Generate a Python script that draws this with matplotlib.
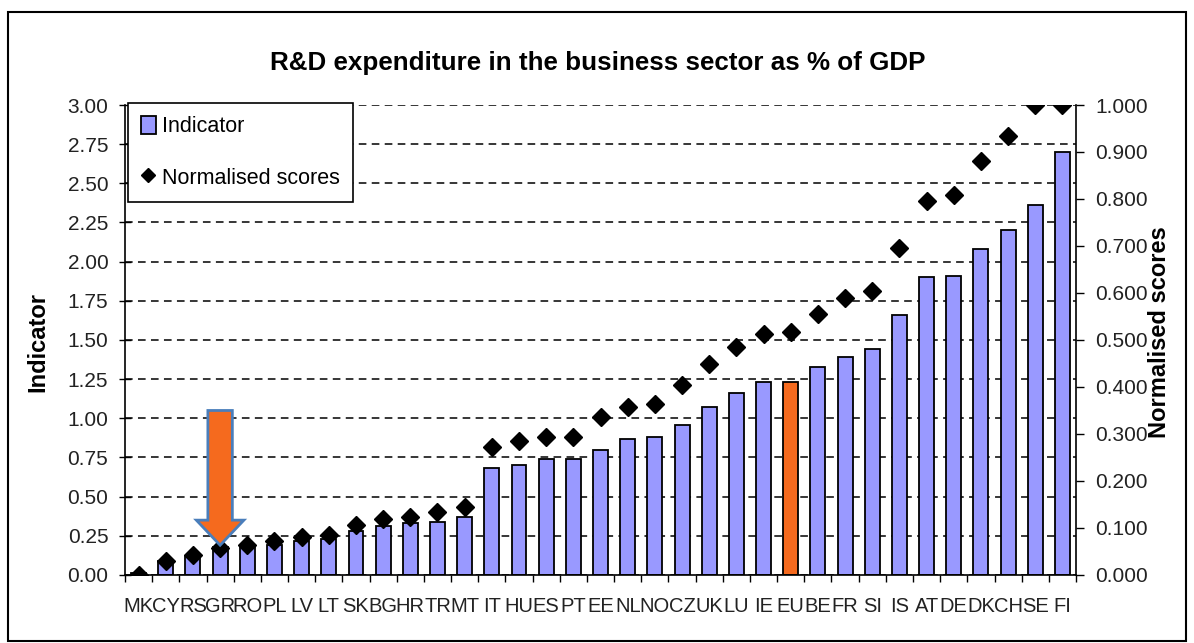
import numpy as np
import matplotlib
matplotlib.use("Agg")
import matplotlib.pyplot as plt
from matplotlib import font_manager as fm
from matplotlib.patches import FancyArrow, Rectangle, Patch
from matplotlib.lines import Line2D

# data
countries = ["MK", "CY", "RS", "GR", "RO", "PL", "LV", "LT", "SK", "BG", "HR", "TR",
             "MT", "IT", "HU", "ES", "PT", "EE", "NL", "NO", "CZ", "UK", "LU", "IE",
             "EU", "BE", "FR", "SI", "IS", "AT", "DE", "DK", "CH", "SE", "FI"]
indicator = [0.01, 0.09, 0.12, 0.18, 0.18, 0.19, 0.22, 0.23, 0.28, 0.31, 0.33, 0.34,
             0.37, 0.68, 0.70, 0.74, 0.74, 0.80, 0.87, 0.88, 0.96, 1.07, 1.16, 1.23,
             1.23, 1.33, 1.39, 1.44, 1.66, 1.90, 1.91, 2.08, 2.20, 2.36, 2.70]
normalised = [0.000, 0.030, 0.043, 0.057, 0.064, 0.073, 0.080, 0.085, 0.106, 0.120,
              0.123, 0.133, 0.145, 0.273, 0.285, 0.294, 0.294, 0.337, 0.358, 0.364,
              0.404, 0.449, 0.485, 0.513, 0.518, 0.556, 0.590, 0.604, 0.696, 0.796,
              0.808, 0.881, 0.934, 1.000, 1.000]
highlight = "EU"
pointed = "GR"

left_ticks = np.arange(0, 3.01, 0.25)
right_ticks = np.arange(0, 1.001, 0.1)

BAR = "#9999FF"
ORANGE = "#F56A1E"
ARROW_EDGE = "#4A7EBB"

names = {f.name for f in fm.fontManager.ttflist}
REG = "Liberation Sans" if "Liberation Sans" in names else "DejaVu Sans"
NARROW = "Liberation Sans Narrow" if "Liberation Sans Narrow" in names else REG
plt.rcParams["font.family"] = REG

fig = plt.figure(figsize=(11.94, 6.43), dpi=100)
fig.patches.append(Rectangle((0.007, 0.003), 0.986, 0.978, transform=fig.transFigure,
                             fill=False, edgecolor="black", linewidth=1.5))

ax = fig.add_axes([0.1047, 0.1058, 0.7965, 0.7309])
x = np.arange(len(countries))
colors = [ORANGE if c == highlight else BAR for c in countries]
ax.bar(x, indicator, width=0.55, color=colors, edgecolor="black", linewidth=1.3, zorder=2)
ax.set_xlim(-0.5, len(countries) - 0.5)
ax.set_ylim(0, 3.0)
ax.set_yticks(left_ticks)
ax.set_yticklabels([f"{v:.2f}" for v in left_ticks])
ax.yaxis.grid(True, color="black", linestyle=(0, (5, 3.5)), linewidth=1.1, zorder=0)
ax.set_axisbelow(True)

ax.set_xticks(x)
ax.set_xticklabels(countries, fontsize=14.5, family=NARROW, color="#222222")
ax.tick_params(axis="x", which="major", length=0, pad=16)
ax.set_xticks(np.arange(-0.5, len(countries)), minor=True)
ax.tick_params(axis="x", which="minor", length=5, width=1.0, direction="out")
ax.tick_params(axis="y", length=8, width=1.0, direction="inout", labelsize=15,
               labelcolor="#222222", pad=8)
for s in ("top", "right"):
    ax.spines[s].set_visible(False)
for s in ("left", "bottom"):
    ax.spines[s].set_linewidth(1.2)

ax2 = ax.twinx()
ax2.plot(x, normalised, linestyle="none", marker="D", markersize=9,
         color="black", zorder=5)
ax2.set_ylim(0, 1.0)
ax2.set_yticks(right_ticks)
ax2.set_yticklabels([f"{v:.3f}" for v in right_ticks])
ax2.tick_params(axis="y", length=6, width=1.0, direction="out", labelsize=15,
                labelcolor="#222222", pad=8)
for s in ("top", "left", "bottom"):
    ax2.spines[s].set_visible(False)
ax2.spines["right"].set_linewidth(1.2)

# arrow pointing at the highlighted country (drawn on the 0-1 axis, so divide by 3)
gi = countries.index(pointed)
tip = (indicator[gi] + 0.01) / 3
start = 1.05 / 3
ax2.add_patch(FancyArrow(gi, start, 0, tip - start, width=0.9,
                         head_width=1.75, head_length=0.16 / 3,
                         length_includes_head=True, facecolor=ORANGE,
                         edgecolor=ARROW_EDGE, linewidth=2, zorder=6))

fig.text(0.501, 0.902, "R&D expenditure in the business sector as % of GDP",
         ha="center", va="center", fontsize=18.7, fontweight="bold")
fig.text(0.032, 0.468, "Indicator", rotation=90, ha="center", va="center",
         fontsize=17, fontweight="bold")
fig.text(0.9715, 0.483, "Normalised scores", rotation=90, ha="center", va="center",
         fontsize=17, fontweight="bold")

handles = [Patch(facecolor=BAR, edgecolor="black", linewidth=1.3),
           Line2D([], [], linestyle="none", marker="D", markersize=7, color="black")]
leg = fig.legend(handles, ["Indicator", "Normalised scores"], loc="upper left",
                 bbox_to_anchor=(0.107, 0.840), fontsize=15.5, frameon=True,
                 fancybox=False, edgecolor="black", framealpha=1,
                 handlelength=0.7, handleheight=0.9, handletextpad=0.3,
                 labelspacing=1.4, borderpad=0.6, borderaxespad=0)
leg.get_frame().set_linewidth(1.2)

fig.savefig("out.png", dpi=100)
